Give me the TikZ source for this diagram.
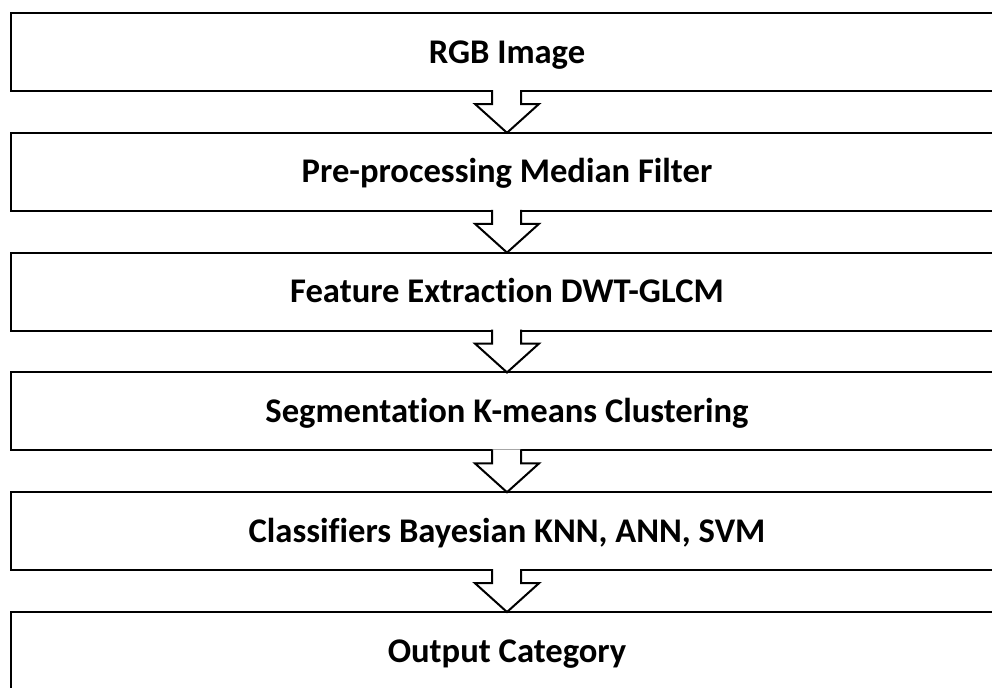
\documentclass[tikz,border=0pt]{standalone}
\usepackage{fontspec}
\setmainfont{Carlito}[Ligatures=NoCommon]
\usetikzlibrary{calc}
\tikzset{font=\bfseries\fontsize{17.3}{20}\selectfont}
\tikzset{stage/.style={draw,line width=1pt,minimum width=496pt,minimum height=39pt,inner sep=0pt,outer sep=0pt,
    text height=11.1pt,text depth=0pt}}
\tikzset{blockarrow/.style={draw,fill=white,line width=1pt,line join=miter}}

\begin{document}
\begin{tikzpicture}[x=0.5pt,y=-0.5pt]
  \useasboundingbox (0,0) rectangle (992,687);
  \clip (0,0) rectangle (992,687);
  \foreach \i/\txt in {1/RGB Image, 2/Pre-processing Median Filter, 3/Feature Extraction DWT-GLCM,
                       4/Segmentation K-means Clustering, 5/{Classifiers Bayesian KNN, ANN, SVM}, 6/Output Category}{
    \node[stage] (b\i) at (507,{52+119.8*(\i-1)}) {\txt};
  };
  % block arrows between the stages
  \foreach \i [evaluate=\i as \j using int(\i+1)] in {1,...,5}{
    \path[blockarrow] ($(b\i.south)+(-15,-1)$) -- ($(b\i.south)+(-15,13)$) -- ($(b\i.south)+(-32,13)$)
      -- (b\j.north) -- ($(b\i.south)+(32,13)$) -- ($(b\i.south)+(14,13)$) -- ($(b\i.south)+(14,-1)$);
  };
\end{tikzpicture}
\end{document}
